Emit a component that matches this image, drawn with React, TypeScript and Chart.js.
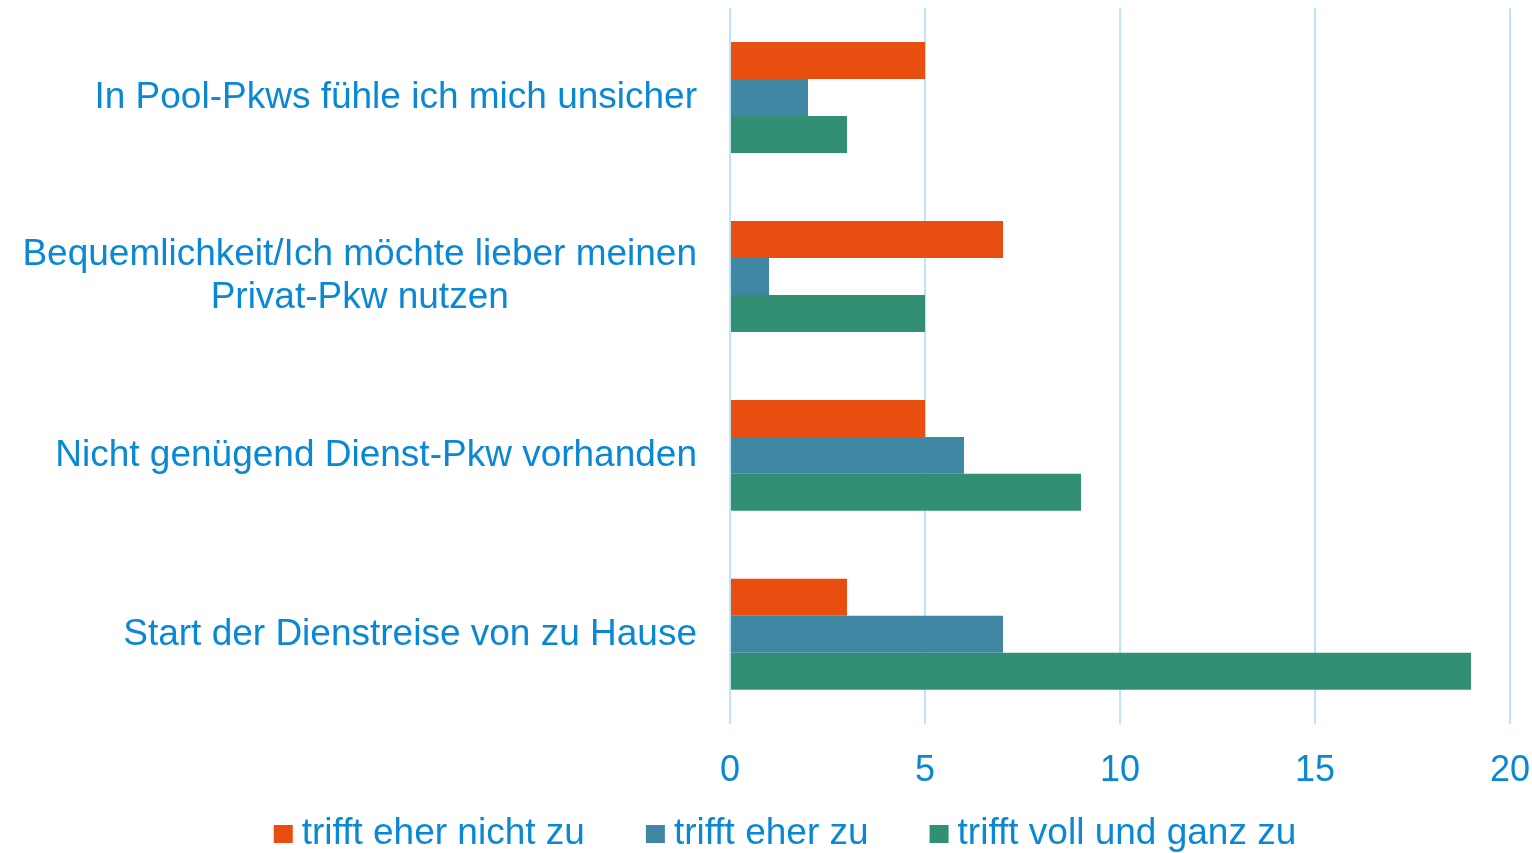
import React, { useEffect, useRef } from "react";
import { Chart, registerables } from "chart.js";

Chart.register(...registerables);

const categories: (string | string[])[] = [
  "In Pool-Pkws fühle ich mich unsicher",
  ["Bequemlichkeit/Ich möchte lieber meinen", "Privat-Pkw nutzen"],
  "Nicht genügend Dienst-Pkw vorhanden",
  "Start der Dienstreise von zu Hause",
];
const seriesNames = ["trifft eher nicht zu", "trifft eher zu", "trifft voll und ganz zu"];
const seriesColors = ["#E84E0F", "#3F87A3", "#338F74"];
const eherNicht = [5, 7, 5, 3];
const eher = [2, 1, 6, 7];
const vollGanz = [3, 5, 9, 19];
const xTicks = [0, 5, 10, 15, 20];

const TEXT = "#0A88D4";
const GRID = "#BEE4F8";
const FONT = "'Liberation Sans', Arial, sans-serif";
const LABEL_SIZE = 37;

const yLabelPlugin = {
  id: "yLabels",
  afterDraw(chart: any) {
    const ctx = chart.ctx;
    const y = chart.scales.y;
    const right = chart.chartArea.left - 33;
    ctx.save();
    ctx.font = `${LABEL_SIZE}px ${FONT}`;
    ctx.fillStyle = TEXT;
    ctx.textBaseline = "middle";
    ctx.textAlign = "center";
    categories.forEach((c, i) => {
      const lines = Array.isArray(c) ? c : [c];
      const cy = y.getPixelForValue(i);
      const lh = 43;
      const maxW = Math.max(...lines.map((l) => ctx.measureText(l).width));
      const center = right - maxW / 2;
      lines.forEach((l, k) => {
        const ly = cy + (k - (lines.length - 1) / 2) * lh;
        ctx.fillText(l, center, ly);
      });
    });
    ctx.restore();
  },
};

const legendPlugin = {
  id: "customLegend",
  afterDraw(chart: any) {
    const ctx = chart.ctx;
    ctx.save();
    ctx.font = `${LABEL_SIZE}px ${FONT}`;
    ctx.textBaseline = "middle";
    ctx.textAlign = "left";
    const box = 19;
    const gapBox = 9;
    const gapItem = 61;
    const widths = seriesNames.map((n) => ctx.measureText(n).width);
    const total = widths.reduce((a, w) => a + box + gapBox + w, 0) + gapItem * (seriesNames.length - 1);
    let x = 785 - total / 2;
    const cy = 834;
    seriesNames.forEach((n, i) => {
      ctx.fillStyle = seriesColors[i];
      ctx.fillRect(x, cy - 9, box, 18);
      x += box + gapBox;
      ctx.fillStyle = TEXT;
      ctx.fillText(n, x, cy);
      x += widths[i] + gapItem;
    });
    ctx.restore();
  },
};

export default function App() {
  const ref = useRef<HTMLCanvasElement | null>(null);
  useEffect(() => {
    if (!ref.current) return;
    const chart = new Chart(ref.current, {
      type: "bar",
      data: {
        labels: categories.map((c) => (Array.isArray(c) ? c.join(" ") : c)),
        datasets: [
          { label: seriesNames[0], data: eherNicht, backgroundColor: seriesColors[0] },
          { label: seriesNames[1], data: eher, backgroundColor: seriesColors[1] },
          { label: seriesNames[2], data: vollGanz, backgroundColor: seriesColors[2] },
        ],
      },
      options: {
        indexAxis: "y",
        animation: false,
        responsive: true,
        maintainAspectRatio: false,
        layout: { padding: { top: 8, left: 40, right: 0, bottom: 34 } },
        datasets: { bar: { categoryPercentage: 0.62, barPercentage: 1 } },
        scales: {
          x: {
            min: 0,
            max: 20,
            afterBuildTicks: (scale: any) => {
              scale.ticks = xTicks.map((v) => ({ value: v }));
            },
            afterFit: (scale: any) => {
              scale.paddingRight = 22;
            },
            grid: { color: GRID, lineWidth: 2, drawTicks: false },
            border: { display: false },
            ticks: {
              color: TEXT,
              font: { family: FONT, size: 36 },
              padding: 26,
              maxRotation: 0,
            },
          },
          y: {
            afterFit: (scale: any) => {
              scale.width = 690;
            },
            grid: { display: false },
            border: { display: false },
            ticks: { display: false },
          },
        },
        plugins: {
          legend: { display: false },
          tooltip: { enabled: false },
        },
      },
      plugins: [yLabelPlugin, legendPlugin],
    });
    return () => chart.destroy();
  }, []);
  return (
    <div style={{ position: "absolute", left: 0, top: 0, width: 1532, height: 853, background: "#fff" }}>
      <canvas ref={ref} />
    </div>
  );
}
